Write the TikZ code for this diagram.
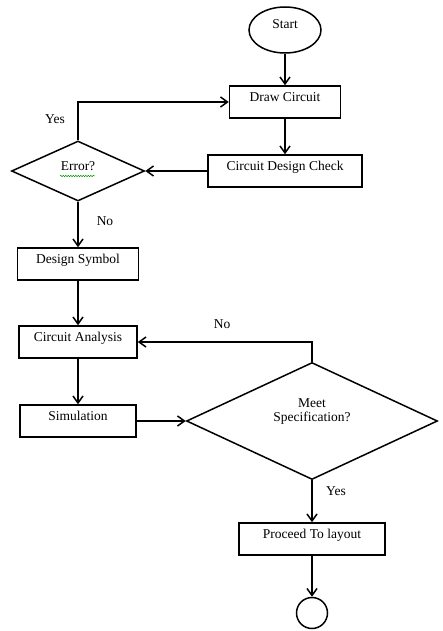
\documentclass[tikz,border=0pt]{standalone}
\usepackage{fontspec}
\setmainfont{Liberation Serif}
\usetikzlibrary{arrows.meta, shapes.geometric, decorations.pathmorphing}

\tikzset{
  box/.style={draw, rectangle, inner sep=0pt, minimum height=32pt,
    text height=9pt, text depth=10pt},
  decision/.style={draw, diamond, inner sep=0pt, shape aspect=2},
  flow/.style={-{Straight Barb[length=7pt, width=10pt]}},
}

\begin{document}
\begin{tikzpicture}[x=1pt, y=-1pt, line width=1.5pt,
    every node/.style={font=\fontsize{13.5}{14}\selectfont}]
    \useasboundingbox (0,0) rectangle (442,631);

    % Terminals
    \node[draw, ellipse, inner sep=0pt, minimum width=72pt, minimum height=46pt,
      text height=9pt, text depth=12pt] (start) at (285,30) {Start};
    \node[draw, circle, inner sep=0pt, minimum size=31pt] (stop) at (312,613) {};

    % Boxes
    \node[box, minimum width=111pt] (draw) at (285,102) {Draw Circuit};
    \node[box, minimum width=154pt] (check) at (285,171) {Circuit Design Check};
    \node[box, minimum width=121pt] (symbol) at (78,264) {Design Symbol};
    \node[box, minimum width=118pt] (analysis) at (78,342) {Circuit Analysis};
    \node[box, minimum width=116pt] (sim) at (78,421) {Simulation};
    \node[box, minimum width=146pt] (proceed) at (312,539) {Proceed To layout};

    % Decisions
    \node[decision, minimum width=133pt, minimum height=60pt, text height=9pt, text depth=9pt]
      (error) at (78,171) {Error?};
    \node[decision, minimum width=251pt, minimum height=117pt] (meet) at (312,421) {};
    \node[align=center] (meettext) at (312,412) {Meet\\Specification?};
    \draw[green!60!black, line width=0.5pt,
      decorate, decoration={snake, amplitude=0.7pt, segment length=2.5pt}] (60,176) -- (95,176);

    % Connectors
    \draw[flow] (start) -- (draw);
    \draw[flow] (draw) -- (check);
    \draw[flow] (check) -- (error);
    \draw[flow] (error.north) |- (draw.west);
    \draw[flow] (error) -- (symbol);
    \draw[flow] (symbol) -- (analysis);
    \draw[flow] (analysis) -- (sim);
    \draw[flow] (sim) -- (meet);
    \draw[flow] (meet.north) |- (analysis.east);
    \draw[flow] (meet) -- (proceed);
    \draw[flow] (proceed) -- (stop);

    % Labels
    \node (yes1) at (55,119) {Yes};
    \node (no1) at (105,221) {No};
    \node (no2) at (222,324) {No};
    \node (yes2) at (336,491) {Yes};
\end{tikzpicture}
\end{document}
